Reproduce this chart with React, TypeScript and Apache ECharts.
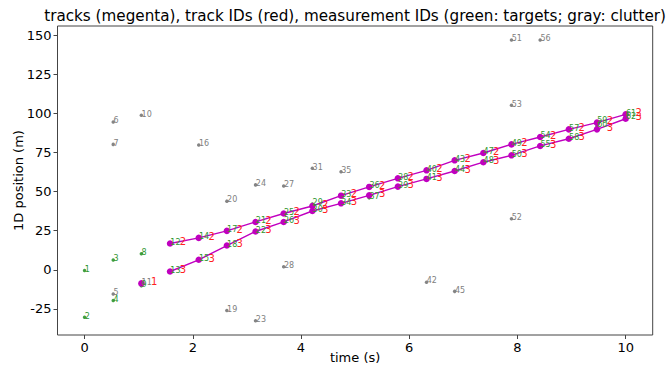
import React, { useEffect, useRef } from "react";
import * as echarts from "echarts";

// time of each scan (s)
const timeSteps = [0, 0.53, 1.05, 1.58, 2.11, 2.63, 3.16, 3.68, 4.21, 4.74, 5.26, 5.79, 6.32, 6.84, 7.37, 7.89, 8.42, 8.95, 9.47, 10];

// target measurements (green)
const targetIds = [1, 2, 3, 4, 8, 9, 12, 13, 14, 15, 17, 18, 21, 22, 25, 26, 29, 30, 33, 34, 36, 37, 38, 39, 40, 41, 43, 44, 47, 48, 49, 50, 54, 55, 57, 58, 59, 60, 61, 62];
const targetStep = [0, 0, 1, 1, 2, 2, 3, 3, 4, 4, 5, 5, 6, 6, 7, 7, 8, 8, 9, 9, 10, 10, 11, 11, 12, 12, 13, 13, 14, 14, 15, 15, 16, 16, 17, 17, 18, 18, 19, 19];
const targetY = [-0.5, -30.4, 6.2, -19.6, 10.2, -10.2, 16.8, -1.1, 20.4, 6.4, 24.9, 15.5, 30.6, 24.5, 36.0, 30.6, 42.0, 38.0, 47.4, 42.0, 53.0, 46.0, 58.5, 53.2, 63.6, 58.1, 70.0, 63.2, 74.7, 68.8, 80.2, 73.2, 85.0, 79.2, 89.8, 83.8, 94.5, 92.0, 99.4, 97.0];

// clutter measurements (gray)
const clutterIds = [5, 6, 7, 10, 11, 16, 19, 20, 23, 24, 27, 28, 31, 35, 42, 45, 51, 52, 53, 56];
const clutterStep = [1, 1, 1, 2, 2, 4, 5, 5, 6, 6, 7, 7, 8, 9, 12, 13, 15, 15, 15, 16];
const clutterY = [-15.5, 94.5, 80.2, 98.8, -8.7, 79.8, -26.0, 43.9, -32.6, 54.3, 53.6, 1.9, 64.9, 62.7, -7.9, -13.8, 146.9, 32.6, 105.2, 146.9];

// tracks (magenta)
const trackIds = [1, 2, 3];
const trackSteps = [
  [2],
  [3, 4, 5, 6, 7, 8, 9, 10, 11, 12, 13, 14, 15, 16, 17, 18, 19],
  [3, 4, 5, 6, 7, 8, 9, 10, 11, 12, 13, 14, 15, 16, 17, 18, 19],
];
const trackY = [
  [-8.7],
  [16.8, 20.4, 24.9, 30.6, 36.0, 40.8, 47.4, 53.0, 58.5, 63.6, 70.0, 74.7, 80.2, 84.9, 89.8, 94.1, 99.4],
  [-1.1, 6.4, 15.5, 24.5, 30.6, 37.6, 42.5, 47.6, 53.2, 58.1, 63.2, 68.8, 73.2, 79.2, 83.8, 89.8, 96.6],
];

const xTicks = [0, 2, 4, 6, 8, 10];
const yTicks = [-25, 0, 25, 50, 75, 100, 125, 150];

const FONT = "DejaVu Sans";

export default function App() {
  const ref = useRef<HTMLDivElement>(null);
  useEffect(() => {
    document.body.style.margin = "0";
    const chart = echarts.init(ref.current!, null, { renderer: "svg" });

    const gridL = 57.5, gridR = 652.7, gridT = 26, gridB = 335;

    const textLabel = (color: string, size: number, dx: number, dy: number) => ({
      show: true,
      position: [0, 0],
      align: "left",
      verticalAlign: "bottom",
      offset: [dx, dy],
      formatter: (p: any) => String(p.value[2]),
      color,
      opacity: 1,
      fontSize: size,
      fontFamily: FONT,
      textBorderWidth: 0,
      textShadowBlur: 0,
    });

    const trackData = trackIds.map((id, i) =>
      trackSteps[i].map((s, j) => [timeSteps[s], trackY[i][j], id])
    );
    const clutterData = clutterIds.map((id, i) => [timeSteps[clutterStep[i]], clutterY[i], id]);
    const targetData = targetIds.map((id, i) => [timeSteps[targetStep[i]], targetY[i], id]);

    const axisCommon = {
      type: "value",
      axisLine: { show: false, onZero: false },
      splitLine: { show: false },
    };

    chart.setOption({
      animation: false,
      grid: {
        left: gridL,
        right: 667 - gridR,
        top: gridT,
        bottom: 366 - gridB,
        show: true,
        borderColor: "#444",
        borderWidth: 1,
      },
      xAxis: {
        ...axisCommon,
        min: -0.5,
        max: 10.5,
        axisTick: { show: true, customValues: xTicks, length: 4, lineStyle: { color: "#444" } },
        axisLabel: { customValues: xTicks, color: "#000", fontSize: 13, fontFamily: FONT, margin: 6 },
      },
      yAxis: {
        ...axisCommon,
        min: -41.7,
        max: 155.9,
        axisTick: { show: true, customValues: yTicks, length: 4, lineStyle: { color: "#444" } },
        axisLabel: { customValues: yTicks, color: "#000", fontSize: 13, fontFamily: FONT, margin: 6 },
      },
      graphic: [
        {
          type: "text",
          x: (gridL + gridR) / 2,
          y: 16,
          style: {
            text: "tracks (megenta), track IDs (red), measurement IDs (green: targets; gray: clutter)",
            fontSize: 15.2,
            fontFamily: FONT,
            fill: "#000",
            textAlign: "center",
            textVerticalAlign: "middle",
          },
        },
        {
          type: "text",
          x: (gridL + gridR) / 2,
          y: 357,
          style: { text: "time (s)", fontSize: 13, fontFamily: FONT, fill: "#000", textAlign: "center", textVerticalAlign: "middle" },
        },
        {
          type: "text",
          x: 18,
          y: (gridT + gridB) / 2,
          rotation: Math.PI / 2,
          style: { text: "1D position (m)", fontSize: 13, fontFamily: FONT, fill: "#000", textAlign: "center", textVerticalAlign: "middle" },
        },
      ],
      series: [
        {
          type: "scatter",
          name: "clutter-dots",
          data: clutterData,
          symbolSize: 3.5,
          itemStyle: { color: "#666" },
          z: 1,
        },
        {
          type: "scatter",
          name: "target-dots",
          data: targetData,
          symbolSize: 3.5,
          itemStyle: { color: "#118811" },
          z: 1,
        },
        ...trackIds.map((id, i) => ({
          type: "line",
          name: "track" + id,
          data: trackData[i],
          symbol: "circle",
          symbolSize: 6.5,
          itemStyle: { color: "#c000c0" },
          lineStyle: { color: "#c000c0", width: 1.4 },
          z: 2,
        })),
        {
          type: "scatter",
          name: "clutter-ids",
          data: clutterData,
          symbolSize: 0.5,
          itemStyle: { color: "#808080" },
          label: textLabel("#808080", 8, 0.5, 3),
          z: 3,
        },
        {
          type: "scatter",
          name: "target-ids",
          data: targetData,
          symbolSize: 0.5,
          itemStyle: { color: "#2f962f" },
          label: textLabel("#2f962f", 8, 0.5, 3),
          z: 3,
        },
        ...trackIds.map((id, i) => ({
          type: "scatter",
          name: "trackid" + id,
          data: trackData[i],
          symbolSize: 0.5,
          itemStyle: { color: "#c000c0" },
          label: textLabel("#ff2020", 10, 10, 3.5),
          z: 4,
        })),
      ],
    });
    return () => chart.dispose();
  }, []);
  return <div ref={ref} style={{ width: 667, height: 366, position: "absolute", left: 0, top: 0 }} />;
}
